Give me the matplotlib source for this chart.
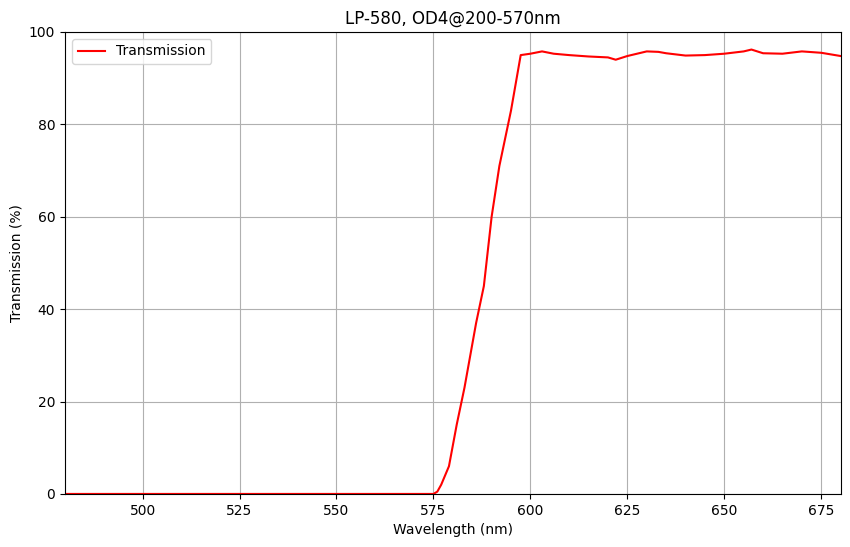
import matplotlib
matplotlib.use("Agg")
import matplotlib.pyplot as plt

wavelength = [480, 500, 550, 575, 576, 577, 578, 579, 581, 583, 586, 588, 590, 592, 595, 597.5,
              600, 603, 606, 610, 615, 620, 622, 625, 630, 633, 635, 640, 645, 650, 655, 657, 660, 665, 670, 675, 680]
transmission = [0, 0, 0, 0, 0.5, 2, 4, 6, 15, 23, 37, 45, 60, 71, 83, 95,
                95.3, 95.8, 95.3, 95.0, 94.7, 94.5, 94.0, 94.8, 95.8, 95.7, 95.4, 94.9, 95.0, 95.3, 95.8, 96.2, 95.4, 95.3, 95.8, 95.5, 94.8]

fig = plt.figure(figsize=(8.5, 5.47), dpi=100)
ax = fig.add_axes([0.0765, 0.097, 0.9125, 0.8445])
ax.plot(wavelength, transmission, color="red", label="Transmission")
ax.set_xlim(480, 680)
ax.set_ylim(0, 100)
ax.set_xticks([500, 525, 550, 575, 600, 625, 650, 675])
ax.set_yticks([0, 20, 40, 60, 80, 100])
ax.grid(True)
ax.set_xlabel("Wavelength (nm)")
ax.set_ylabel("Transmission (%)")
ax.set_title("LP-580, OD4@200-570nm")
ax.legend(loc="upper left")
fig.savefig("out.png")
